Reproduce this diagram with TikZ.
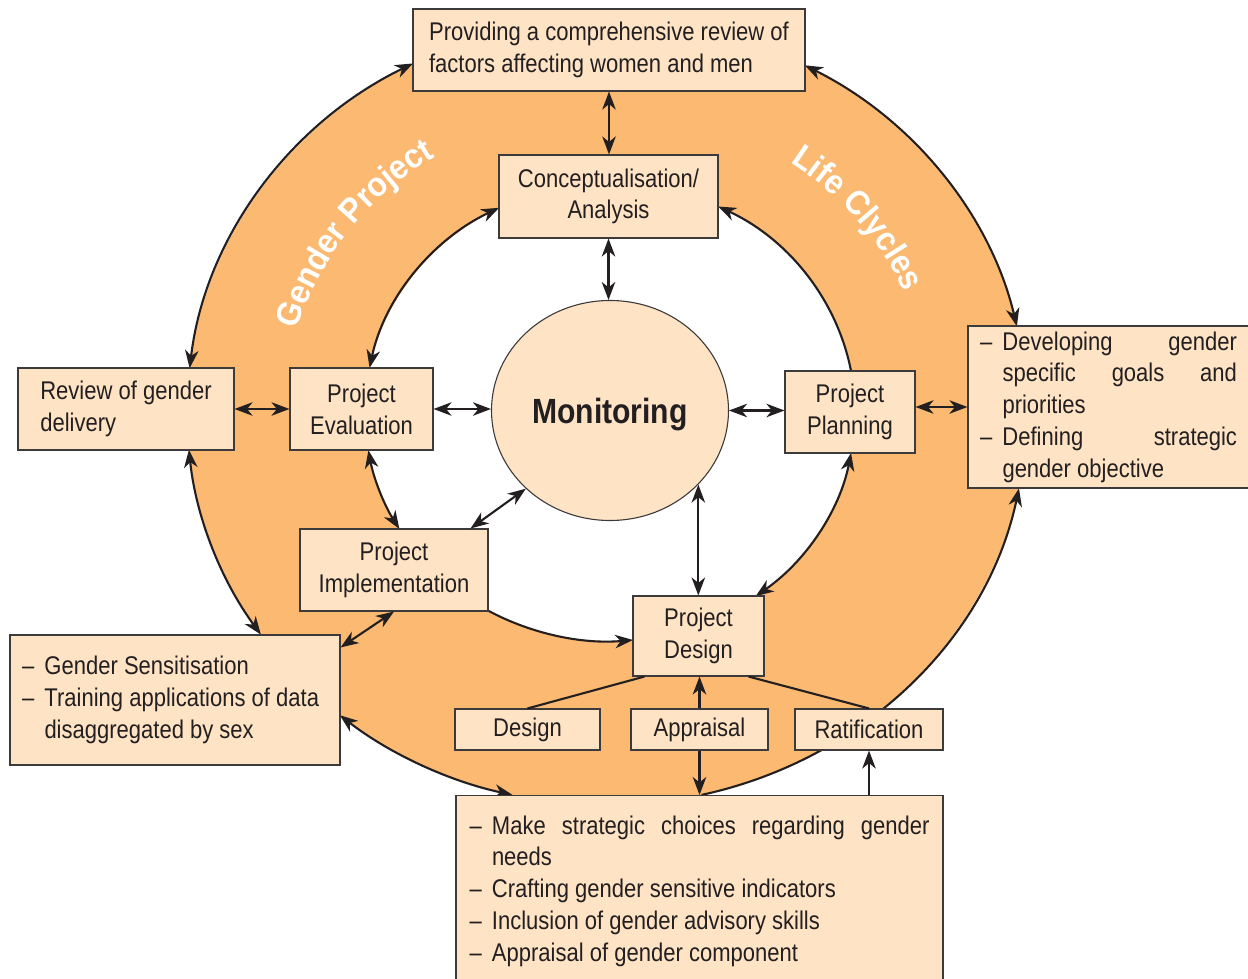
\documentclass[tikz,border=0pt]{standalone}
\usepackage{fontspec}
\setmainfont{Liberation Sans}[FakeStretch=0.86]
\newfontfamily\ringfont{Liberation Sans}[FakeStretch=0.93]
\usetikzlibrary{arrows.meta,shapes.geometric,calc,decorations.text}
\definecolor{ringc}{HTML}{FBB971}
\definecolor{boxfill}{HTML}{FEE3C5}
\definecolor{boxline}{HTML}{3C3A3A}
\definecolor{arrowc}{HTML}{231F20}
\newcommand\bxfont{\fontsize{25.6}{31.7}\selectfont}
\newcommand\jline[1]{\hbox to\hsize{#1}}
\newcommand\dsh{\makebox[22.5pt][l]{–}}
\newcommand\ind{\hskip22.5pt\relax}
\begin{document}
\begin{tikzpicture}[x=1pt,y=1pt,
  tip/.tip={Stealth[length=18pt,width=13.5pt,inset=5.5pt]},
  box/.style={draw=boxline, fill=boxfill, line width=1.1pt, inner sep=0pt, font=\bxfont, text=arrowc},
  con/.style={draw=arrowc, line width=2.1pt},
  both/.style={con,tip-tip},
  fwd/.style={con,-tip},
  ringtext/.style={decorate, decoration={text along path, text color=white, text align=center, text={|\ringfont\bfseries\fontsize{34}{34}\selectfont|#1}}}]
\fill[white] (0,0) rectangle (1248,-979);
\useasboundingbox (0,0) rectangle (1248,-979);
\coordinate (Co) at (607,-412);
\coordinate (Ci) at (610,-412);
\coordinate (Cm) at (608,-412);
% ring
\fill[ringc, even odd rule] (Co) ellipse[x radius=420, y radius=393] (Ci) ellipse[x radius=245, y radius=229];
% ring labels
\path[ringtext={Gender Project}] ($(Cm)+(181.7:323 and 302)$) arc[start angle=181.7, end angle=105.7, x radius=323, y radius=302];
\path[ringtext={Life Clycles}] ($(Cm)+(75:323 and 302)$) arc[start angle=75, end angle=3, x radius=323, y radius=302];
% outer arcs
\draw[both] ($(Co)+(173.6:420 and 393)$) arc[start angle=173.6, end angle=117.5, x radius=420, y radius=393];
\draw[both] ($(Co)+(61.9:420 and 393)$) arc[start angle=61.9, end angle=12.6, x radius=420, y radius=393];
\draw[fwd] ($(Co)+(-77:420 and 393)$) arc[start angle=-77, end angle=-11.2, x radius=420, y radius=393];
\draw[both] ($(Co)+(-103:420 and 393)$) arc[start angle=-103, end angle=-129.5, x radius=420, y radius=393];
\draw[both] ($(Co)+(-145.5:420 and 393)$) arc[start angle=-145.5, end angle=-174.5, x radius=420, y radius=393];
% inner arcs
\draw[both] ($(Ci)+(116.9:245 and 229)$) arc[start angle=116.9, end angle=168.9, x radius=245, y radius=229];
\draw[fwd] ($(Ci)+(10.3:245 and 229)$) arc[start angle=10.3, end angle=63.8, x radius=245, y radius=229];
\draw[both] ($(Ci)+(-10.3:245 and 229)$) arc[start angle=-10.3, end angle=-53.5, x radius=245, y radius=229];
\draw[fwd] ($(Ci)+(-119.9:245 and 229)$) arc[start angle=-119.9, end angle=-84.6, x radius=245, y radius=229];
\draw[both] ($(Ci)+(-149.3:245 and 229)$) arc[start angle=-149.3, end angle=-170.4, x radius=245, y radius=229];
% nodes
\node[box, minimum width=392, minimum height=82, align=left] (top) at (609,-50) {Providing a comprehensive review of\\factors affecting women and men};
\node[box, minimum width=219, minimum height=83, align=center] (concept) at (608.5,-196.5) {Conceptualisation/\\Analysis};
\node[box, minimum width=216, minimum height=82, align=left] (review) at (126,-409) {Review of gender\\delivery};
\node[box, minimum width=143, minimum height=82, align=center] (eval) at (361.5,-409) {Project\\Evaluation};
\node[box, ellipse, minimum width=237, minimum height=220, text depth=0pt, font=\fontsize{35}{35}\selectfont\bfseries] (mon) at (610,-410.5) {Monitoring};
\node[box, minimum width=130, minimum height=82, align=center] (plan) at (850,-412) {Project\\Planning};
\node[box, minimum width=281, minimum height=162] (right) at (1108.5,-407) {\vbox{\hsize=257pt
\jline{\dsh Developing\hfil gender}
\jline{\ind specific\hfil goals\hfil and}
\jline{\ind priorities\hfil}
\jline{\dsh Defining\hfil strategic}
\jline{\ind gender objective\hfil}}};
\node[box, minimum width=188, minimum height=82, align=center] (impl) at (394,-570) {Project\\Implementation};
\node[box, minimum width=330, minimum height=130] (leftbot) at (175,-700) {\vbox{\hsize=306pt
\jline{\dsh Gender Sensitisation\hfil}
\jline{\dsh Training applications of data\hfil}
\jline{\ind disaggregated by sex\hfil}}};
\node[box, minimum width=131, minimum height=80, align=center] (design) at (698.5,-636) {Project\\Design};
\node[box, minimum width=145, minimum height=41] (dsmall) at (527.5,-729.5) {Design};
\node[box, minimum width=137, minimum height=41] (appr) at (699.5,-729.5) {Appraisal};
\node[box, minimum width=148, minimum height=41] (rat) at (869,-729.5) {Ratification};
\node[box, minimum width=487, minimum height=191, anchor=north] (bot) at (699.5,-795) {\vbox{\hsize=460pt
\jline{\dsh Make\hfil strategic\hfil choices\hfil regarding\hfil gender}
\jline{\ind needs\hfil}
\jline{\dsh Crafting gender sensitive indicators\hfil}
\jline{\dsh Inclusion of gender advisory skills\hfil}
\jline{\dsh Appraisal of gender component\hfil}}};
% straight connectors
\draw[both] (top.south) -- (top.south |- concept.north);
\draw[both] (concept.south) -- (concept.south |- mon.north);
\draw[both] (review.east) -- (eval.west);
\draw[both] (eval.east) -- (eval.east -| mon.west);
\draw[both] (mon.east) -- (mon.east -| plan.west);
\draw[both] (right.west -| plan.east) -- (right.west);
\draw[both] (mon.south west) -- ([xshift=-18pt]impl.north east);
\draw[both] (mon.-40.6) -- (mon.-40.6 |- design.north);
\draw[both] (impl.south) -- ([yshift=-13pt]leftbot.north east);
\draw[fwd] (appr.north) -- (appr.north |- design.south);
\draw[fwd] (appr.south) -- (appr.south |- bot.north);
\draw[fwd] (rat.south |- bot.north) -- (rat.south);
\draw[con] ([xshift=12pt]design.south west) -- (dsmall.north);
\draw[con] ([xshift=-16pt]design.south east) -- (rat.north);
\end{tikzpicture}
\end{document}
